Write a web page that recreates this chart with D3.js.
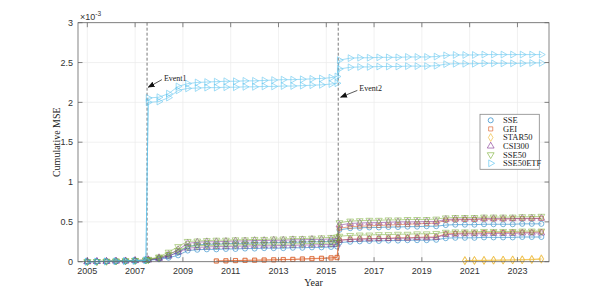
<!DOCTYPE html>
<html>
<head>
<meta charset="utf-8">
<script src="https://cdn.jsdelivr.net/npm/d3@7"></script>
<style>
  body { margin: 0; background: #fff; }
  .tick-label { font-family: "Liberation Sans", Arial, sans-serif; font-size: 9px; fill: #333; }
  .axis-title { font-family: "Liberation Serif", "Times New Roman", serif; font-size: 10px; fill: #222; }
  .legend-text { font-family: "Liberation Serif", "Times New Roman", serif; font-size: 8.5px; fill: #222; }
  .event-text { font-family: "Liberation Serif", "Times New Roman", serif; font-size: 8px; fill: #222; }
</style>
</head>
<body>
<svg id="chart"></svg>
<script>
// time points (year), shared by all series
const years = [2005.0, 2005.4, 2005.8, 2006.2, 2006.6, 2007.0, 2007.45, 2007.55, 2008.0, 2008.4,
  2008.8, 2009.2, 2009.6, 2010.0, 2010.4, 2010.8, 2011.2, 2011.6, 2012.0, 2012.4,
  2012.8, 2013.2, 2013.6, 2014.0, 2014.4, 2014.8, 2015.2, 2015.45, 2015.55, 2016.0,
  2016.4, 2016.8, 2017.2, 2017.6, 2018.0, 2018.4, 2018.8, 2019.2, 2019.6, 2020.0,
  2020.4, 2020.8, 2021.2, 2021.6, 2022.0, 2022.4, 2022.8, 2023.2, 2023.6, 2024.0];

// cumulative MSE values, x 1e-3 (two runs per index)
const sseA = [0, 0.002, 0.004, 0.006, 0.008, 0.012, 0.018, 0.02, 0.04, 0.07,
  0.12, 0.19, 0.21, 0.22, 0.22, 0.225, 0.23, 0.23, 0.235, 0.235,
  0.24, 0.24, 0.245, 0.245, 0.25, 0.25, 0.255, 0.26, 0.40, 0.42,
  0.425, 0.43, 0.43, 0.435, 0.435, 0.44, 0.44, 0.445, 0.445, 0.46,
  0.465, 0.465, 0.465, 0.47, 0.47, 0.47, 0.47, 0.475, 0.475, 0.475];
const sseB = [0, 0.002, 0.003, 0.005, 0.007, 0.01, 0.015, 0.018, 0.03, 0.05,
  0.08, 0.14, 0.15, 0.155, 0.155, 0.16, 0.16, 0.165, 0.165, 0.17,
  0.17, 0.17, 0.175, 0.175, 0.18, 0.18, 0.185, 0.19, 0.24, 0.25,
  0.255, 0.26, 0.26, 0.265, 0.265, 0.27, 0.27, 0.27, 0.275, 0.295,
  0.3, 0.3, 0.3, 0.305, 0.305, 0.305, 0.305, 0.31, 0.31, 0.31];
const geiA = [null, null, null, null, null, null, null, null, null, null,
  null, null, null, null, 0.01, 0.012, 0.015, 0.018, 0.02, 0.022,
  0.025, 0.028, 0.03, 0.035, 0.04, 0.045, 0.05, 0.055, 0.42, 0.44,
  0.445, 0.45, 0.455, 0.46, 0.465, 0.47, 0.475, 0.48, 0.485, 0.52,
  0.525, 0.53, 0.53, 0.535, 0.535, 0.535, 0.54, 0.54, 0.54, 0.545];
const geiB = [null, null, null, null, null, null, null, null, null, null,
  null, null, null, null, 0.008, 0.01, 0.013, 0.016, 0.018, 0.02,
  0.022, 0.025, 0.028, 0.032, 0.036, 0.04, 0.045, 0.05, 0.27, 0.28,
  0.285, 0.29, 0.29, 0.295, 0.3, 0.3, 0.305, 0.31, 0.31, 0.35,
  0.355, 0.36, 0.36, 0.365, 0.365, 0.365, 0.37, 0.37, 0.37, 0.375];
const starA = [null, null, null, null, null, null, null, null, null, null,
  null, null, null, null, null, null, null, null, null, null,
  null, null, null, null, null, null, null, null, null, null,
  null, null, null, null, null, null, null, null, null, null,
  null, 0.015, 0.017, 0.018, 0.02, 0.022, 0.024, 0.026, 0.03, 0.038];
const starB = [null, null, null, null, null, null, null, null, null, null,
  null, null, null, null, null, null, null, null, null, null,
  null, null, null, null, null, null, null, null, null, null,
  null, null, null, null, null, null, null, null, null, null,
  null, 0.012, 0.014, 0.015, 0.017, 0.018, 0.02, 0.022, 0.025, 0.03];
const csiA = [0, 0.003, 0.005, 0.008, 0.01, 0.015, 0.02, 0.025, 0.05, 0.09,
  0.15, 0.23, 0.245, 0.25, 0.25, 0.255, 0.26, 0.26, 0.265, 0.265,
  0.27, 0.27, 0.275, 0.275, 0.28, 0.28, 0.285, 0.29, 0.46, 0.48,
  0.485, 0.49, 0.49, 0.495, 0.5, 0.5, 0.5, 0.505, 0.505, 0.53,
  0.535, 0.535, 0.535, 0.54, 0.54, 0.54, 0.54, 0.545, 0.545, 0.545];
const csiB = [0, 0.002, 0.004, 0.007, 0.009, 0.013, 0.018, 0.022, 0.04, 0.07,
  0.12, 0.17, 0.18, 0.185, 0.19, 0.19, 0.195, 0.195, 0.2, 0.2,
  0.2, 0.205, 0.205, 0.21, 0.21, 0.215, 0.215, 0.22, 0.27, 0.28,
  0.285, 0.285, 0.29, 0.29, 0.295, 0.295, 0.3, 0.3, 0.305, 0.34,
  0.345, 0.35, 0.35, 0.35, 0.355, 0.355, 0.355, 0.36, 0.36, 0.36];
const sse50A = [0, 0.003, 0.006, 0.009, 0.012, 0.016, 0.022, 0.03, 0.06, 0.12,
  0.19, 0.255, 0.26, 0.265, 0.27, 0.27, 0.275, 0.275, 0.28, 0.28,
  0.285, 0.285, 0.29, 0.29, 0.295, 0.3, 0.305, 0.31, 0.49, 0.51,
  0.515, 0.52, 0.52, 0.525, 0.525, 0.53, 0.53, 0.53, 0.535, 0.55,
  0.555, 0.555, 0.555, 0.56, 0.56, 0.56, 0.56, 0.565, 0.565, 0.57];
const sse50B = [0, 0.002, 0.005, 0.008, 0.01, 0.014, 0.02, 0.025, 0.05, 0.09,
  0.14, 0.19, 0.2, 0.205, 0.205, 0.21, 0.21, 0.215, 0.215, 0.22,
  0.22, 0.22, 0.225, 0.225, 0.23, 0.23, 0.235, 0.24, 0.32, 0.33,
  0.335, 0.335, 0.34, 0.34, 0.345, 0.345, 0.35, 0.35, 0.355, 0.37,
  0.375, 0.375, 0.375, 0.38, 0.38, 0.38, 0.38, 0.385, 0.385, 0.385];
const etfA = [0, 0.002, 0.004, 0.006, 0.008, 0.012, 0.02, 2.055, 2.065, 2.11,
  2.2, 2.235, 2.25, 2.255, 2.26, 2.265, 2.265, 2.27, 2.27, 2.275,
  2.28, 2.285, 2.285, 2.29, 2.295, 2.3, 2.31, 2.325, 2.53, 2.555,
  2.56, 2.56, 2.565, 2.565, 2.565, 2.57, 2.57, 2.57, 2.575, 2.59,
  2.595, 2.595, 2.595, 2.6, 2.6, 2.6, 2.6, 2.6, 2.6, 2.6];
const etfB = [0, 0.002, 0.003, 0.005, 0.007, 0.01, 0.016, 2.0, 2.01, 2.06,
  2.15, 2.175, 2.18, 2.185, 2.185, 2.19, 2.19, 2.195, 2.195, 2.2,
  2.2, 2.205, 2.205, 2.21, 2.215, 2.22, 2.23, 2.24, 2.42, 2.44,
  2.445, 2.445, 2.45, 2.45, 2.45, 2.455, 2.455, 2.455, 2.46, 2.48,
  2.485, 2.485, 2.485, 2.49, 2.49, 2.49, 2.49, 2.49, 2.495, 2.495];

const names = ["SSE", "GEI", "STAR50", "CSI300", "SSE50", "SSE50ETF"];
const colors = ["#0072BD", "#D95319", "#EDB120", "#7E2F8E", "#77AC30", "#4DBEEE"];
const runs = [[sseA, sseB], [geiA, geiB], [starA, starB], [csiA, csiB], [sse50A, sse50B], [etfA, etfB]];

const xTicks = [2005, 2007, 2009, 2011, 2013, 2015, 2017, 2019, 2021, 2023];
const yTicks = [0, 0.5, 1, 1.5, 2, 2.5, 3];

const events = [
  {name: "Event1", year: 2007.5, head: [2007.55, 2.19], tail: [2008.12, 2.285]},
  {name: "Event2", year: 2015.5, head: [2015.6, 2.065], tail: [2016.3, 2.15]}
];

const W = 607, H = 294;
const plot = {left: 78, right: 549, top: 22.7, bottom: 261.7};

const svg = d3.select("#chart").attr("width", W).attr("height", H);

const x = d3.scaleLinear().domain([2004.61, 2024.32]).range([plot.left, plot.right]);
const y = d3.scaleLinear().domain([0, 3]).range([plot.bottom, plot.top]);

// grid
const grid = svg.append("g");
grid.selectAll(".gx").data(xTicks).join("line")
  .attr("x1", d => x(d)).attr("x2", d => x(d))
  .attr("y1", plot.top).attr("y2", plot.bottom)
  .attr("stroke", "#ebebeb").attr("stroke-width", 0.7);
grid.selectAll(".gy").data(yTicks).join("line")
  .attr("x1", plot.left).attr("x2", plot.right)
  .attr("y1", d => y(d)).attr("y2", d => y(d))
  .attr("stroke", "#ebebeb").attr("stroke-width", 0.7);

// event lines
svg.append("g").selectAll("line").data(events).join("line")
  .attr("x1", d => x(d.year)).attr("x2", d => x(d.year))
  .attr("y1", plot.top).attr("y2", plot.bottom)
  .attr("stroke", "#555").attr("stroke-width", 0.8)
  .attr("stroke-dasharray", "3,2");

// series
const line = d3.line()
  .defined(d => d.v !== null)
  .x(d => x(d.t)).y(d => y(d.v));

const symbolFor = i => {
  const types = [d3.symbolCircle, d3.symbolSquare, d3.symbolDiamond, d3.symbolTriangle, d3.symbolTriangle, d3.symbolTriangle];
  const sizes = [20, 17, 18, 20, 20, 20];
  return d3.symbol().type(types[i]).size(sizes[i]);
};
const rotFor = [0, 0, 0, 0, 180, 90];

const seriesG = svg.append("g");
runs.forEach((pair, i) => {
  pair.forEach(vals => {
    const pts = years.map((t, k) => ({t: t, v: vals[k]}));
    const g = seriesG.append("g").attr("opacity", 0.75);
    g.append("path").datum(pts)
      .attr("d", line)
      .attr("fill", "none")
      .attr("stroke", colors[i])
      .attr("stroke-width", 0.7);
    g.selectAll("path.m").data(pts.filter(d => d.v !== null)).join("path")
      .attr("class", "m")
      .attr("d", symbolFor(i))
      .attr("transform", d => `translate(${x(d.t)},${y(d.v)}) rotate(${rotFor[i]})`)
      .attr("fill", "none")
      .attr("stroke", colors[i])
      .attr("stroke-width", 0.7);
  });
});

// axes box and inward ticks
const axisColor = "#666";
svg.append("rect")
  .attr("x", plot.left).attr("y", plot.top)
  .attr("width", plot.right - plot.left).attr("height", plot.bottom - plot.top)
  .attr("fill", "none").attr("stroke", axisColor).attr("stroke-width", 0.8);

const ticks = svg.append("g").attr("stroke", axisColor).attr("stroke-width", 0.8);
xTicks.forEach(d => {
  ticks.append("line").attr("x1", x(d)).attr("x2", x(d)).attr("y1", plot.bottom).attr("y2", plot.bottom - 4.5);
  ticks.append("line").attr("x1", x(d)).attr("x2", x(d)).attr("y1", plot.top).attr("y2", plot.top + 4.5);
});
yTicks.forEach(d => {
  ticks.append("line").attr("x1", plot.left).attr("x2", plot.left + 4.5).attr("y1", y(d)).attr("y2", y(d));
  ticks.append("line").attr("x1", plot.right).attr("x2", plot.right - 4.5).attr("y1", y(d)).attr("y2", y(d));
});

svg.append("g").selectAll("text").data(xTicks).join("text")
  .attr("class", "tick-label")
  .attr("x", d => x(d)).attr("y", plot.bottom + 12)
  .attr("text-anchor", "middle")
  .text(d => d);
svg.append("g").selectAll("text").data(yTicks).join("text")
  .attr("class", "tick-label")
  .attr("x", plot.left - 5).attr("y", d => y(d) + 3.2)
  .attr("text-anchor", "end")
  .text(d => d);

// exponent label
const expo = svg.append("text").attr("class", "tick-label")
  .attr("x", plot.left + 2).attr("y", plot.top - 3);
expo.append("tspan").text("\u00d710");
expo.append("tspan").attr("dy", -3.5).attr("font-size", "6.5px").text("-3");

// axis titles
svg.append("text").attr("class", "axis-title")
  .attr("x", (plot.left + plot.right) / 2).attr("y", plot.bottom + 24)
  .attr("text-anchor", "middle").text("Year");
svg.append("text").attr("class", "axis-title")
  .attr("transform", `translate(60,${(plot.top + plot.bottom) / 2}) rotate(-90)`)
  .attr("text-anchor", "middle").text("Cumulative MSE");

// event annotations
svg.append("defs").append("marker")
  .attr("id", "arrow").attr("viewBox", "0 0 10 10")
  .attr("refX", 9).attr("refY", 5)
  .attr("markerWidth", 7).attr("markerHeight", 7)
  .attr("markerUnits", "userSpaceOnUse")
  .attr("orient", "auto")
  .append("path").attr("d", "M0,1 L10,5 L0,9 Z").attr("fill", "#111");

const ann = svg.append("g");
events.forEach(e => {
  ann.append("line")
    .attr("x1", x(e.tail[0])).attr("y1", y(e.tail[1]))
    .attr("x2", x(e.head[0])).attr("y2", y(e.head[1]))
    .attr("stroke", "#111").attr("stroke-width", 0.7)
    .attr("marker-end", "url(#arrow)");
  ann.append("text").attr("class", "event-text")
    .attr("x", x(e.tail[0]) + 2).attr("y", y(e.tail[1]) + 1)
    .text(e.name);
});

// legend
const lg = svg.append("g").attr("transform", "translate(480,114.3)");
lg.append("rect").attr("width", 59.3).attr("height", 55)
  .attr("fill", "#fff").attr("stroke", "#888").attr("stroke-width", 0.8);
names.forEach((n, i) => {
  const yy = 6 + i * 8.6;
  lg.append("path")
    .attr("d", symbolFor(i)())
    .attr("transform", `translate(10.7,${yy}) rotate(${rotFor[i]})`)
    .attr("fill", "none").attr("stroke", colors[i]).attr("stroke-width", 0.7)
    .attr("opacity", 0.85);
  lg.append("text").attr("class", "legend-text")
    .attr("x", 23).attr("y", yy + 3).text(n);
});
</script>
</body>
</html>
